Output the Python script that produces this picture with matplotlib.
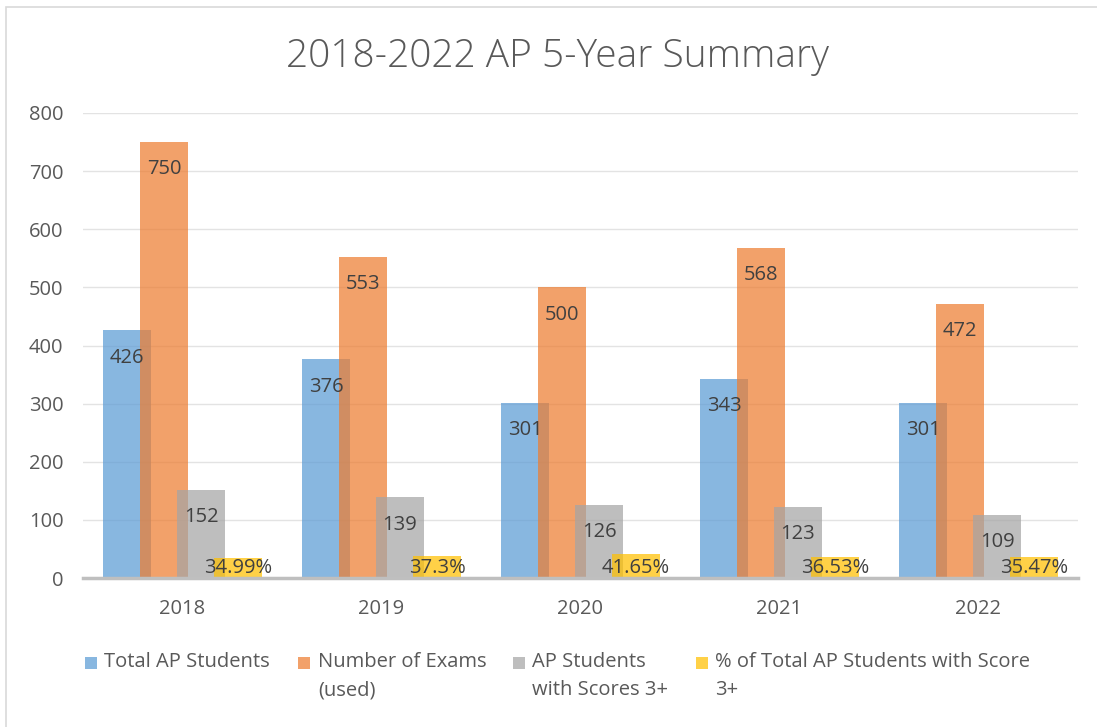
import matplotlib
matplotlib.use("Agg")
import matplotlib.pyplot as plt
from matplotlib.patches import Rectangle
import numpy as np

plt.rcParams['font.family'] = ['Open Sans', 'DejaVu Sans']

years = ["2018", "2019", "2020", "2021", "2022"]
total_students = [426, 376, 301, 343, 301]
num_exams = [750, 553, 500, 568, 472]
students_3plus = [152, 139, 126, 123, 109]
pct_3plus = [34.99, 37.3, 41.65, 36.53, 35.47]

series_names = ["Total AP Students", "Number of Exams\n(used)",
                "AP Students\nwith Scores 3+", "% of Total AP Students with Score\n3+"]
colors = ["#5B9BD5", "#ED7D31", "#A5A5A5", "#FFC000"]
alpha = 0.72
txt = "#595959"

W, H = 1097, 727
fig = plt.figure(figsize=(W / 100, H / 100), dpi=100)
ax = fig.add_axes([83 / W, 1 - 578 / H, (1078 - 83) / W, (578 - 113) / H])

x = np.arange(len(years))
step = 0.186
width = 0.246
offsets = [-1.5 * step, -0.5 * step, 0.5 * step, 1.5 * step]
data = [total_students, num_exams, students_3plus, pct_3plus]

for i, (vals, c, off) in enumerate(zip(data, colors, offsets)):
    ax.bar(x + off, vals, width, color=c, alpha=alpha, zorder=2 + i, linewidth=0)
    for xi, v in zip(x + off, vals):
        lab = f"{v:g}%" if i == 3 else f"{v:d}"
        ly = max(v - 47, 17)
        ax.text(xi, ly, lab, ha='center', va='center', fontsize=14.5, color="#404040", zorder=10)

ax.set_xlim(-0.5, len(years) - 0.5)
ax.set_ylim(0, 800)
ax.set_yticks(np.arange(0, 801, 100))
ax.set_xticks(x)
ax.set_xticklabels(years)
ax.tick_params(axis='both', length=0, colors=txt, labelsize=14.5)
ax.tick_params(axis='y', pad=14)
ax.tick_params(axis='x', pad=15)
ax.grid(axis='y', color='#E3E3E3', linewidth=1, zorder=0)
ax.set_axisbelow(True)
for s in ['top', 'right', 'left']:
    ax.spines[s].set_visible(False)
ax.spines['bottom'].set_color('#BFBFBF')
ax.spines['bottom'].set_linewidth(2.5)
ax.spines['bottom'].set_zorder(20)

fig.text(557 / W, 1 - 57 / H, "2018-2022 AP 5-Year Summary", ha='center', va='center',
         fontsize=28, color=txt, fontweight='light')

# legend
sq_x = [85, 298, 513, 696]
tx_x = [104, 318, 532, 715]
ly = 663
for name, c, sx, tx in zip(series_names, colors, sq_x, tx_x):
    fig.patches.append(Rectangle((sx / W, 1 - (ly + 6) / H), 12 / W, 12 / H,
                                 transform=fig.transFigure, facecolor=c, alpha=alpha,
                                 edgecolor='none'))
    fig.text(tx / W, 1 - (ly - 11) / H, name, ha='left', va='top', fontsize=14.5,
             color=txt, linespacing=1.55)

# chart frame
fig.patches.append(Rectangle((6 / W, -0.1), 1.2, 1 - 7 / H + 0.1, transform=fig.transFigure,
                             facecolor='none', edgecolor='#D9D9D9', linewidth=1.2))

fig.savefig("out.png", dpi=100)
